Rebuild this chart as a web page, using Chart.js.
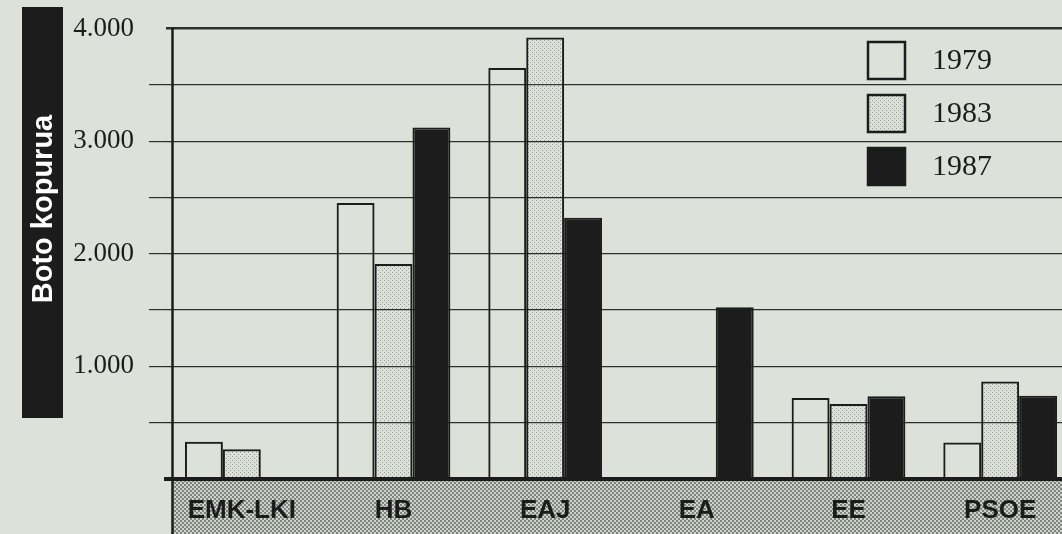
<!DOCTYPE html>
<html>
<head>
<meta charset="utf-8">
<script src="https://cdn.jsdelivr.net/npm/chart.js@4.4.1/dist/chart.umd.min.js"></script>
<style>
    html, body { margin: 0; padding: 0; background: #dce2da; overflow: hidden; }
    #wrap { width: 1080px; height: 534px; }
</style>
</head>
<body>
<div id="wrap"><canvas id="votesChart"></canvas></div>
<script>
// Data
const parties = ['EMK-LKI', 'HB', 'EAJ', 'EA', 'EE', 'PSOE'];
const years = ['1979', '1983', '1987'];
const votes1979 = [330, 2450, 3650, 0, 720, 325];
const votes1983 = [265, 1910, 3920, 0, 665, 865];
const votes1987 = [0, 3120, 2320, 1525, 735, 740];
const tickValues = [1000, 2000, 3000, 4000];
const tickLabels = ['1.000', '2.000', '3.000', '4.000'];

const paper = '#dce2da';
const ink = '#1c1c1c';

// small dotted fills, like the printed screen tones
function dotPattern(base, dot, size, dotSize) {
    const c = document.createElement('canvas');
    c.width = size;
    c.height = size;
    const g = c.getContext('2d');
    if (base) {
        g.fillStyle = base;
        g.fillRect(0, 0, size, size);
    }
    g.fillStyle = dot;
    g.fillRect(0, 0, dotSize, dotSize);
    g.fillRect(size / 2, size / 2, dotSize, dotSize);
    return g.createPattern(c, 'repeat');
}

const lightDots = dotPattern(null, 'rgba(90, 96, 90, 0.55)', 4, 1);
const bandDots = dotPattern('#cdd2cb', '#7f847e', 4, 2);
const frameX = 172.5;

const paperPlugin = {
    id: 'paper',
    beforeDraw(chart) {
        const { ctx, chartArea: a, width, height } = chart;
        ctx.save();
        ctx.fillStyle = paper;
        ctx.fillRect(0, 0, width, height);

        // shaded band under the bars holding the party names
        ctx.fillStyle = bandDots;
        ctx.fillRect(frameX, a.bottom, width - frameX, height - a.bottom);

        // axis title on a black block
        ctx.fillStyle = ink;
        ctx.fillRect(22, 7, 41, 411);
        ctx.translate(43, 209);
        ctx.rotate(-Math.PI / 2);
        ctx.fillStyle = '#ffffff';
        ctx.font = 'bold 29px "Liberation Sans", Arial, sans-serif';
        ctx.textAlign = 'center';
        ctx.textBaseline = 'middle';
        ctx.fillText('Boto kopurua', 0, 1);
        ctx.restore();
    },
    afterDraw(chart) {
        const { ctx, chartArea: a, height } = chart;
        ctx.save();
        // left frame, from the top line down through the band
        ctx.strokeStyle = ink;
        ctx.lineWidth = 2.5;
        ctx.beginPath();
        ctx.moveTo(frameX, a.top - 1);
        ctx.lineTo(frameX, height);
        ctx.stroke();

        chart.data.datasets.forEach(function(ds, i) {
            const x = 868;
            const y = 42 + i * 53;
            ctx.fillStyle = ds.backgroundColor;
            ctx.fillRect(x, y, 37, 37);
            ctx.strokeStyle = ink;
            ctx.lineWidth = 2.5;
            ctx.strokeRect(x, y, 37, 37);
            ctx.fillStyle = ink;
            ctx.font = '30px "Liberation Serif", "Times New Roman", serif';
            ctx.textAlign = 'left';
            ctx.textBaseline = 'middle';
            ctx.fillText(ds.label, 932, y + 19);
        });
        ctx.restore();
    }
};

const chartCtx = document.getElementById('votesChart').getContext('2d');
new Chart(chartCtx, {
    type: 'bar',
    data: {
        labels: parties,
        datasets: [
            {
                label: years[0],
                data: votes1979,
                backgroundColor: 'rgba(0, 0, 0, 0)',
                borderColor: ink,
                borderWidth: 2
            },
            {
                label: years[1],
                data: votes1983,
                backgroundColor: lightDots,
                borderColor: ink,
                borderWidth: 2
            },
            {
                label: years[2],
                data: votes1987,
                backgroundColor: ink,
                borderColor: ink,
                borderWidth: 2
            }
        ]
    },
    options: {
        responsive: true,
        maintainAspectRatio: false,
        animation: false,
        devicePixelRatio: 1,
        layout: {
            padding: { top: 28, right: 4, left: 0, bottom: 0 }
        },
        datasets: {
            bar: {
                categoryPercentage: 0.75,
                barPercentage: 1.0
            }
        },
        scales: {
            x: {
                grid: { display: false },
                border: { display: true, color: ink, width: 4 },
                ticks: {
                    color: ink,
                    padding: 8,
                    maxRotation: 0,
                    autoSkip: false,
                    font: {
                        family: '"Liberation Sans Narrow", "Liberation Sans", Arial, sans-serif',
                        size: 26,
                        weight: 'bold'
                    }
                },
                afterFit(scale) { scale.height = 55; }
            },
            y: {
                min: 0,
                max: 4000,
                ticks: {
                    stepSize: 500,
                    color: ink,
                    padding: 15,
                    font: {
                        family: '"Liberation Serif", "Times New Roman", serif',
                        size: 27,
                        lineHeight: 1
                    },
                    callback: function(value) {
                        const i = tickValues.indexOf(value);
                        return i >= 0 ? tickLabels[i] : '';
                    }
                },
                grid: {
                    color: '#2e2e2e',
                    lineWidth: function(c) { return c.tick && c.tick.value === 4000 ? 2.5 : 1.2; },
                    tickLength: 17,
                    tickWidth: 1.2,
                    tickColor: function(c) {
                        const v = c.tick ? c.tick.value : -1;
                        return (v === 0 || v === 4000) ? 'rgba(0, 0, 0, 0)' : '#2e2e2e';
                    }
                },
                border: { display: false },
                afterFit(scale) { scale.width = 166; }
            }
        },
        plugins: {
            legend: { display: false },
            tooltip: { enabled: false }
        }
    },
    plugins: [paperPlugin]
});
</script>
</body>
</html>
